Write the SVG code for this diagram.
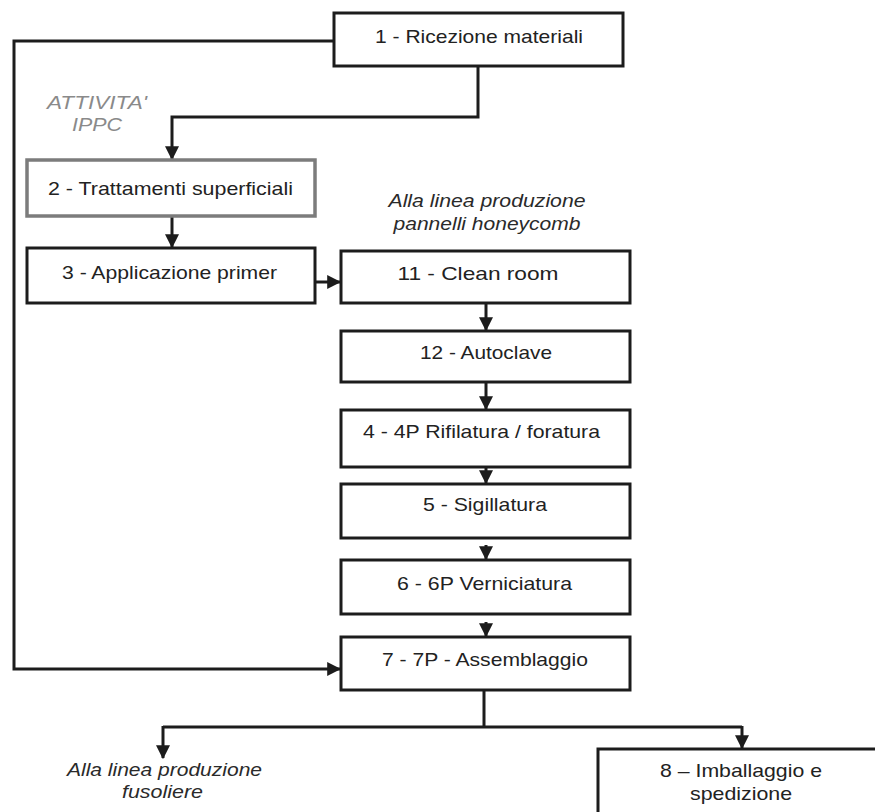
<svg xmlns="http://www.w3.org/2000/svg" width="875" height="812" viewBox="0 0 875 812">
  <style>
    .box { fill: #ffffff; stroke: #1c1c1c; stroke-width: 3; }
    .box-ippc { fill: #ffffff; stroke: #7c7c7c; stroke-width: 3.5; }
    .lbl { font-family: "Liberation Sans", Arial, sans-serif; font-size: 18.5px; fill: #222222; text-anchor: middle; }
    .note { font-family: "Liberation Sans", Arial, sans-serif; font-size: 18.5px; font-style: italic; fill: #2a2a2a; text-anchor: middle; }
    .tag { font-family: "Liberation Sans", Arial, sans-serif; font-size: 18px; font-style: italic; fill: #8a8a8a; text-anchor: middle; }
    .wire { fill: none; stroke: #1c1c1c; stroke-width: 3; }
  </style>
  <defs>
    <marker id="head" markerUnits="userSpaceOnUse" markerWidth="14" markerHeight="14" viewBox="0 0 12 12" refX="11" refY="6" orient="auto">
      <path d="M0,0 L12,6 L0,12 Z" fill="#1c1c1c"/>
    </marker>
  </defs>
  <rect width="875" height="812" fill="#ffffff"/>

  <!-- connectors -->
  <g id="connectors">
    <path class="wire" d="M334,41 H14 V669 H340" marker-end="url(#head)"/>
    <path class="wire" d="M478,66 V117 H172 V159" marker-end="url(#head)"/>
    <path class="wire" d="M172,216 V247" marker-end="url(#head)"/>
    <path class="wire" d="M315,282 H340" marker-end="url(#head)"/>
    <path class="wire" d="M486,303 V330" marker-end="url(#head)"/>
    <path class="wire" d="M486,382 V409" marker-end="url(#head)"/>
    <path class="wire" d="M486,467 V483" marker-end="url(#head)"/>
    <path class="wire" d="M486,545 V559" marker-end="url(#head)"/>
    <path class="wire" d="M486,622 V636" marker-end="url(#head)"/>
    <path class="wire" d="M484,690 V727 M163,727 H742"/>
    <path class="wire" d="M163,726 V758" marker-end="url(#head)"/>
    <path class="wire" d="M742,726 V748" marker-end="url(#head)"/>
  </g>

  <text class="tag" x="97" y="109" textLength="100" lengthAdjust="spacingAndGlyphs">ATTIVITA'</text>
  <text class="tag" x="97" y="131" textLength="50" lengthAdjust="spacingAndGlyphs">IPPC</text>

  <g id="n1">
    <rect class="box" x="334" y="13" width="289" height="53"/>
    <text class="lbl" x="479" y="43" textLength="208" lengthAdjust="spacingAndGlyphs">1 - Ricezione materiali</text>
  </g>
  <g id="n2">
    <rect class="box-ippc" x="27" y="160" width="288" height="56"/>
    <text class="lbl" x="170.5" y="195" textLength="245" lengthAdjust="spacingAndGlyphs">2 - Trattamenti superficiali</text>
  </g>
  <g id="n3">
    <rect class="box" x="27" y="248" width="288" height="55"/>
    <text class="lbl" x="169.5" y="279" textLength="215" lengthAdjust="spacingAndGlyphs">3 - Applicazione primer</text>
  </g>

  <text class="note" x="487" y="207" textLength="197" lengthAdjust="spacingAndGlyphs">Alla linea produzione</text>
  <text class="note" x="487" y="230" textLength="187" lengthAdjust="spacingAndGlyphs">pannelli honeycomb</text>

  <g id="n11">
    <rect class="box" x="341" y="251" width="289" height="52"/>
    <text class="lbl" x="478" y="280" textLength="161" lengthAdjust="spacingAndGlyphs">11 - Clean room</text>
  </g>
  <g id="n12">
    <rect class="box" x="341" y="331" width="289" height="51"/>
    <text class="lbl" x="486" y="359" textLength="132" lengthAdjust="spacingAndGlyphs">12 - Autoclave</text>
  </g>
  <g id="n4">
    <rect class="box" x="341" y="410" width="289" height="57"/>
    <text class="lbl" x="481.5" y="438" textLength="237" lengthAdjust="spacingAndGlyphs">4 - 4P Rifilatura / foratura</text>
  </g>
  <g id="n5">
    <rect class="box" x="341" y="484" width="289" height="54"/>
    <text class="lbl" x="485" y="511" textLength="124" lengthAdjust="spacingAndGlyphs">5 - Sigillatura</text>
  </g>
  <g id="n6">
    <rect class="box" x="341" y="560" width="289" height="54"/>
    <text class="lbl" x="484.5" y="590" textLength="175" lengthAdjust="spacingAndGlyphs">6 - 6P Verniciatura</text>
  </g>
  <g id="n7">
    <rect class="box" x="341" y="637" width="289" height="53"/>
    <text class="lbl" x="485" y="666" textLength="206" lengthAdjust="spacingAndGlyphs">7 - 7P - Assemblaggio</text>
  </g>

  <text class="note" x="164.5" y="776" textLength="195" lengthAdjust="spacingAndGlyphs">Alla linea produzione</text>
  <text class="note" x="162.5" y="798" textLength="81" lengthAdjust="spacingAndGlyphs">fusoliere</text>

  <g id="n8">
    <rect class="box" x="598" y="749" width="290" height="75"/>
    <text class="lbl" x="741" y="777" textLength="162" lengthAdjust="spacingAndGlyphs">8 – Imballaggio e</text>
    <text class="lbl" x="741" y="800" textLength="102" lengthAdjust="spacingAndGlyphs">spedizione</text>
  </g>
</svg>
